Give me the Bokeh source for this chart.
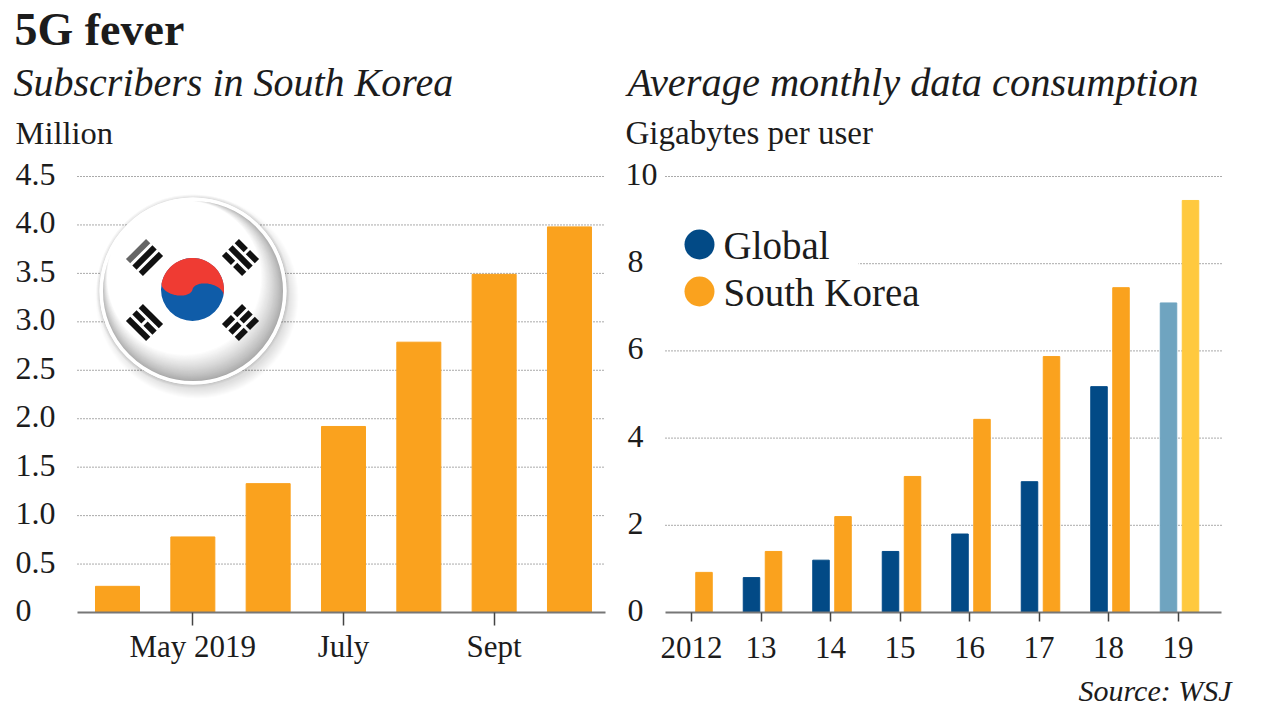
import numpy as np
from bokeh.plotting import figure
from bokeh.layouts import row
from bokeh.models import Label, FixedTicker, ColumnDataSource, Range1d
from bokeh.embed import file_html
from bokeh.resources import INLINE

# ---------- data ----------
months = ["Apr", "May", "Jun", "Jul", "Aug", "Sep", "Oct"]
subscribers = [0.27, 0.78, 1.33, 1.92, 2.79, 3.49, 3.98]
left_y_ticks = [0, 0.5, 1.0, 1.5, 2.0, 2.5, 3.0, 3.5, 4.0, 4.5]
left_y_labels = ["0", "0.5", "1.0", "1.5", "2.0", "2.5", "3.0", "3.5", "4.0", "4.5"]
left_x_ticks = {1: "May 2019", 3: "July", 5: "Sept"}

years = ["2012", "13", "14", "15", "16", "17", "18", "19"]
global_gb = [None, 0.8, 1.2, 1.4, 1.8, 3.0, 5.18, 7.1]
korea_gb = [0.92, 1.4, 2.2, 3.12, 4.43, 5.87, 7.45, 9.45]
right_y_ticks = [0, 2, 4, 6, 8, 10]
right_y_labels = ["0", "2", "4", "6", "8", "10"]

title = "5G fever"
left_sub = "Subscribers in South Korea"
left_unit = "Million"
right_sub = "Average monthly data consumption"
right_unit = "Gigabytes per user"
source_text = "Source: WSJ"
legend_names = ["Global", "South Korea"]

ORANGE, BLUE, LBLUE, YELLOW = "#FAA21E", "#024A86", "#6FA4C0", "#FFC93F"
INK = "#1c1c1c"
SERIF = "Liberation Serif"

# ---------- geometry (page pixels) ----------
FIG_H, TOP_Y, BASE_Y = 716, 176, 612


def make_fig(page_left, width, frame_l, frame_r, x0_px, x_step, y_top, grid_ticks):
    unit = (BASE_Y - TOP_Y) / y_top
    fx = lambda px: (px - x0_px) / x_step
    fy = lambda py: (BASE_Y - py) / unit
    p = figure(width=width, height=FIG_H, output_backend="svg", toolbar_location=None,
               x_range=Range1d(fx(page_left), fx(page_left + width)),
               y_range=Range1d(fy(FIG_H), fy(0)),
               min_border=0, outline_line_color=None,
               background_fill_color="white", border_fill_color="white")
    p.xgrid.visible = False
    p.ygrid.visible = False
    p.yaxis.visible = False
    p.multi_line([[fx(frame_l), fx(frame_r)] for _ in grid_ticks], [[t, t] for t in grid_ticks],
                 line_color="#555555", line_dash="1 2", line_width=1)
    ax = p.xaxis[0]
    ax.fixed_location = 0
    ax.bounds = (fx(frame_l), fx(frame_r))
    ax.axis_line_color = "#777777"
    ax.axis_line_width = 2
    ax.major_tick_line_color = "#444444"
    ax.major_tick_line_width = 1.5
    ax.minor_tick_line_color = None
    ax.major_tick_in = 0
    ax.major_label_text_font = SERIF
    ax.major_label_text_color = INK
    ax.major_label_text_font_size = "31px"
    return p, fx, fy


def text(p, fx, fy, px, py, s, size, style="normal", align="left", baseline="alphabetic", y=None, yoff=0):
    # Bokeh's alphabetic anchor sits about a third of the size higher than asked
    if y is None:
        py = py - 0.32 * size
    p.add_layout(Label(x=fx(px), y=fy(py) if y is None else y, y_offset=yoff, text=s, text_font=SERIF,
                       text_font_size=f"{size}px", text_font_style=style, text_color=INK,
                       text_align=align, text_baseline=baseline))


# ---------- left chart ----------
L, fxL, fyL = make_fig(0, 620, 77, 605, 117, 75.33, 4.5, left_y_ticks[1:])
L.xaxis[0].ticker = FixedTicker(ticks=list(left_x_ticks))
L.xaxis[0].major_label_overrides = dict(left_x_ticks)
L.xaxis[0].major_tick_out = 13
L.xaxis[0].major_label_standoff = 3
L.vbar(x=list(range(len(months))), top=subscribers, width=44 / 75.33, color=ORANGE)

for v, s in zip(left_y_ticks, left_y_labels):
    text(L, fxL, fyL, 15, 0, s, 32, baseline="middle", y=v, yoff=2)
text(L, fxL, fyL, 14, 44, title, 46, style="bold")
text(L, fxL, fyL, 13, 95, left_sub, 40, style="italic")
text(L, fxL, fyL, 15, 143, left_unit, 32.5)

# flag badge (decoration)
FCX, FCY, FR = 192.5, 290.5, 93.5


def poly(pts):
    pts = np.asarray(pts)
    return [fxL(a) for a in pts[:, 0]], [fyL(b) for b in pts[:, 1]]


def disc(cx, cy, r, color, alpha=1.0):
    L.scatter([fxL(cx)], [fyL(cy)], size=2 * r, color=color, alpha=alpha, line_color=None)


for i in range(4):
    disc(FCX, FCY, FR + 3 - i, "#000000", 0.03)
for i in range(11):
    disc(FCX + 4, FCY + 6, FR + 8 - i, "#000000", 0.012)
disc(FCX, FCY, FR, "#ffffff")
steps = 28
for i in range(steps):
    t = i / (steps - 1)
    r = FR - 2.5 - 14 * t
    shift = 16 * t
    g = int(165 + 90 * t ** 0.8)
    disc(FCX - 0.55 * shift, FCY - 0.83 * shift, r, f"#{g:02x}{g:02x}{g:02x}")
L.scatter([fxL(FCX)], [fyL(FCY)], size=2 * (FR - 1.75), fill_color=None, line_color="#ffffff", line_width=3.5)

TCX, TCY, TR = 192, 289, 31.5
disc(TCX, TCY, TR, "#0F5CA8")
th = np.radians(12)
a = np.linspace(0, np.pi, 60)
big = [(TCX + TR * np.cos(th - v), TCY + TR * np.sin(th - v)) for v in a]
h = TR / 2
w = 9.0
ax_u = np.array([np.cos(th), np.sin(th)])
ax_v = np.array([-np.sin(th), np.cos(th)])
cen = np.array([TCX, TCY], dtype=float)
s1 = [tuple(cen - ax_u * h - ax_u * h * np.cos(v) + ax_v * w * np.sin(v)) for v in a]
s2 = [tuple(cen + ax_u * h - ax_u * h * np.cos(v) - ax_v * w * np.sin(v)) for v in a]
rx, ry = poly(big + s1 + s2)
L.patch(rx, ry, color="#EF3B33", line_color=None)

TH, GAP, LEN, SP = 6.0, 3.0, 28.5, 9.0
trigrams = [
    (144, 257, -1, -1, [(1, "#111111"), (1, "#111111"), (1, "#666666")]),
    (240, 257, 1, -1, [(0, "#111111"), (1, "#111111"), (0, "#111111")]),
    (144, 322, -1, 1, [(1, "#111111"), (0, "#111111"), (1, "#111111")]),
    (240, 322, 1, 1, [(0, "#111111"), (0, "#111111"), (0, "#111111")]),
]
bx, by, bc = [], [], []
for cx, cy, dx, dy, bars in trigrams:
    v = np.array([dx, dy]) / np.sqrt(2)
    u = np.array([-v[1], v[0]])
    c = np.array([cx, cy], dtype=float)
    for k, (solid, col) in enumerate(bars):
        m = c + v * SP * (k - 1)
        segs = [(-LEN / 2, LEN / 2)] if solid else [(-LEN / 2, -GAP / 2), (GAP / 2, LEN / 2)]
        for s0, s1_ in segs:
            q = [m + u * s0 - v * TH / 2, m + u * s1_ - v * TH / 2,
                 m + u * s1_ + v * TH / 2, m + u * s0 + v * TH / 2]
            xx, yy = poly(q)
            bx.append(xx); by.append(yy); bc.append(col)
L.patches(bx, by, color=bc, line_color=None)

# ---------- right chart ----------
STEP = 69.5
R, fxR, fyR = make_fig(620, 656, 665, 1221, 691, STEP, 10, right_y_ticks[1:])
R.xaxis[0].ticker = FixedTicker(ticks=list(range(len(years))))
R.xaxis[0].major_label_overrides = {i: y for i, y in enumerate(years)}
R.xaxis[0].major_tick_out = 9
R.xaxis[0].major_label_standoff = 15

idx = list(range(len(years)))
gx = [i - 9.5 / STEP for i, v in zip(idx, global_gb) if v is not None]
gy = [v for v in global_gb if v is not None]
gc = [BLUE] * (len(gy) - 1) + [LBLUE]
R.vbar(x="x", top="y", color="c", width=16.5 / STEP, source=ColumnDataSource(dict(x=gx, y=gy, c=gc)))
kx = [i + 12.5 / STEP for i in idx]
kc = [ORANGE] * (len(korea_gb) - 1) + [YELLOW]
R.vbar(x="x", top="y", color="c", width=16.5 / STEP, source=ColumnDataSource(dict(x=kx, y=korea_gb, c=kc)))

# white plate behind the legend hides the grid line
R.quad(left=fxR(660), right=fxR(858), bottom=fyR(285), top=fyR(240), color="white", line_color=None)
for py, col, name in zip([244, 291], [BLUE, ORANGE], legend_names):
    R.scatter([fxR(699)], [fyR(py)], size=30, color=col, line_color=None)
    text(R, fxR, fyR, 723, py + 13, name, 39)

for v, s in zip(right_y_ticks, right_y_labels):
    text(R, fxR, fyR, 627 if s != "10" else 625, 0, s, 32, baseline="middle", y=v, yoff=2)
text(R, fxR, fyR, 627, 95, right_sub, 40.4, style="italic")
text(R, fxR, fyR, 625, 143, right_unit, 33)
text(R, fxR, fyR, 1231, 700, source_text, 30, style="italic", align="right")

page = row(L, R, spacing=0)
open("out.html", "w").write(file_html(page, INLINE))
